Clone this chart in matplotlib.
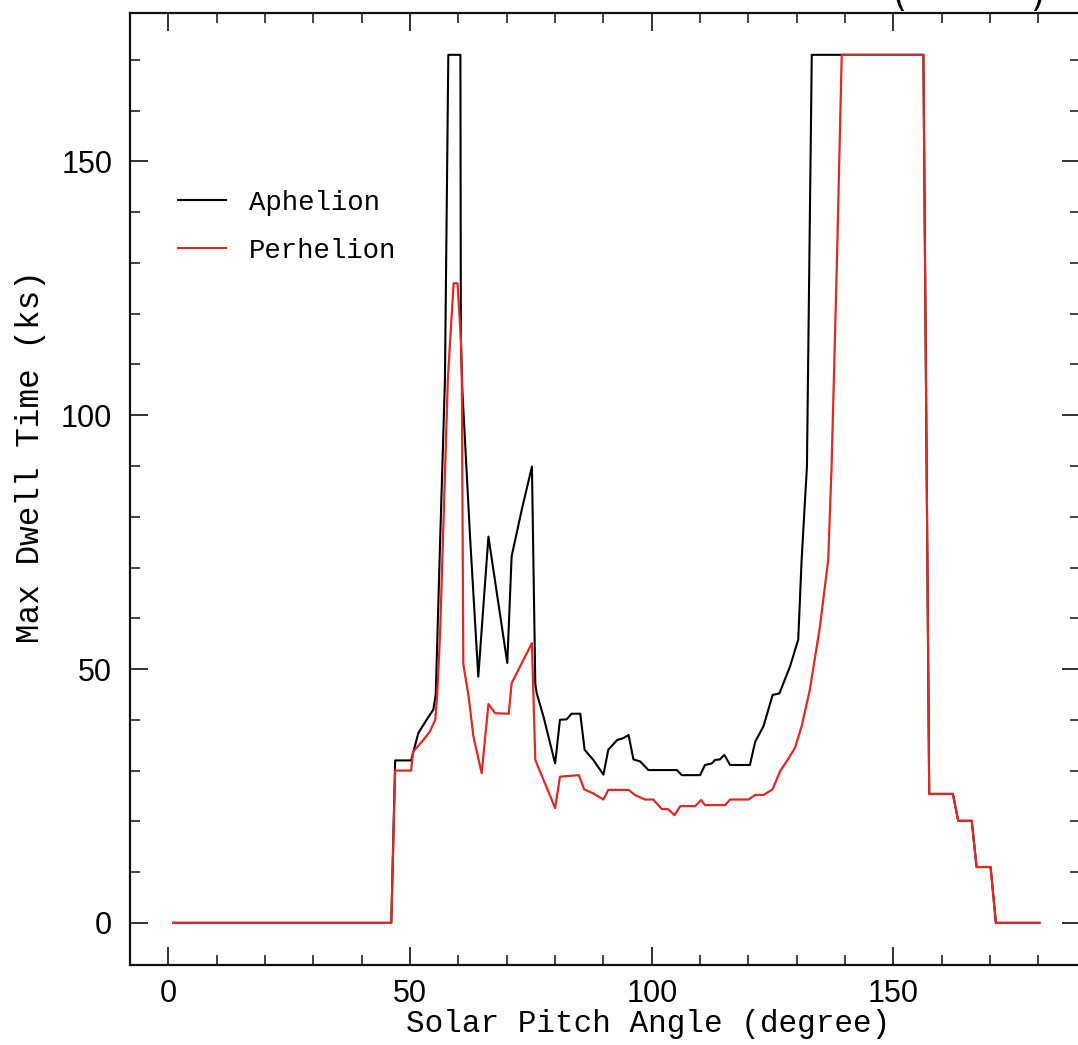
import matplotlib
matplotlib.use("Agg")
import matplotlib.pyplot as plt
from matplotlib.ticker import MultipleLocator

# ---- data ----
aph_x = [1, 46.1, 46.9, 50.2, 51.7, 53.4, 54.8, 55.3, 56.2, 57.2, 57.9, 60.4, 60.5, 60.8,
         62.4, 64.1, 66.2, 70.1, 71.0, 73.1, 75.2, 75.9, 76.2, 77.6, 80.0, 81.0, 82.4, 83.4,
         85.2, 86.1, 87.9, 90.0, 91.0, 92.8, 94.1, 95.2, 96.2, 97.6, 99.3, 105.2, 106.2,
         110.0, 111.0, 112.4, 113.1, 114.1, 115.0, 116.2, 120.3, 121.4, 123.1, 125.0, 126.4,
         128.6, 130.3, 131.0, 132.1, 133.1, 156.2, 157.4, 162.3, 163.4, 166.2, 167.2, 170.1,
         171.2, 180.2]
aph_y = [0, 0, 32, 32, 37.4, 40, 42, 45, 75, 107, 171, 171, 115, 105,
         76, 48.5, 76.1, 51.2, 72.2, 81.4, 89.9, 47, 45.2, 40.6, 31.4, 40.0, 40.1, 41.2,
         41.2, 34.1, 32.1, 29.2, 34.1, 36.0, 36.4, 37.0, 32.2, 31.8, 30.1, 30.1, 29.1,
         29.1, 31.1, 31.4, 32.1, 32.2, 33.1, 31.1, 31.1, 35.7, 38.7, 44.9, 45.2,
         50.5, 55.8, 71.5, 89.9, 171, 171, 25.4, 25.4, 20.1, 20.1, 11.0, 11.0,
         0, 0]

per_x = [1, 46.1, 46.9, 50.2, 50.6, 52.7, 54.1, 55.2, 55.6, 56.2, 57.8, 58.3, 59.0, 59.8,
         60.5, 60.7, 61.0, 62.1, 63.1, 64.8, 66.2, 67.6, 70.4, 71.0, 75.2, 75.9, 80.0, 81.0,
         84.9, 86.0, 87.9, 90.0, 91.0, 95.2, 96.5, 98.6, 100.3, 102.1, 103.4, 104.7, 105.9,
         109.0, 110.2, 111.0, 115.2, 116.2, 120.0, 121.4, 123.1, 125.0, 126.5, 127.9, 129.6,
         131.0, 132.7, 134.8, 136.5, 137.2, 138.3, 139.3, 156.2, 157.4, 162.3, 163.4, 166.2,
         167.2, 170.1, 171.2, 180.2]
per_y = [0, 0, 30, 30, 33.7, 36, 37.7, 40, 45, 57, 107, 115, 126, 126,
         115, 107, 51, 44.6, 36.7, 29.5, 43.1, 41.3, 41.2, 47.2, 55.1, 32.1, 22.6, 28.8,
         29.1, 26.3, 25.5, 24.3, 26.2, 26.2, 25.2, 24.3, 24.3, 22.4, 22.4, 21.2, 23.0,
         23.0, 24.2, 23.2, 23.2, 24.3, 24.3, 25.2, 25.2, 26.3, 29.8, 31.8, 34.4,
         38.7, 45.9, 58.4, 71.5, 89.9, 130, 171, 171, 25.4, 25.4, 20.1, 20.1,
         11.0, 11.0, 0, 0]

series_labels = ["Aphelion", "Perhelion"]
xlabel = "Solar Pitch Angle (degree)"
ylabel = "Max Dwell Time (ks)"
xticks = [0, 50, 100, 150]
yticks = [0, 50, 100, 150]

# ---- figure ----
W, H = 1078, 1045
fig = plt.figure(figsize=(W / 100, H / 100), dpi=100)
AXL, AXR, AXT, AXB = 130.3, 1080, 12.7, 965
ax = fig.add_axes([AXL / W, (H - AXB) / H, (AXR - AXL) / W, (AXB - AXT) / H])

ax.plot(aph_x, aph_y, color="black", lw=1.5, label=series_labels[0], zorder=3)
ax.plot(per_x, per_y, color="#dd2a24", lw=1.6, label=series_labels[1], zorder=4)

ax.set_xlim(-7.9, 188.6)
ax.set_ylim(-8.3, 179.3)
ax.set_xticks(xticks)
ax.set_yticks(yticks)
ax.xaxis.set_minor_locator(MultipleLocator(10))
ax.yaxis.set_minor_locator(MultipleLocator(10))

tickfont = "Liberation Sans"
ax.tick_params(which="both", direction="in", top=True, right=True, colors="#222222",
               labelcolor="black")
ax.tick_params(which="major", length=13, width=1.3, pad=13, labelsize=22)
ax.tick_params(axis="x", which="major", pad=10)
ax.tick_params(which="minor", length=7, width=1.2)
for lab in ax.get_xticklabels() + ax.get_yticklabels():
    lab.set_fontfamily(tickfont)

for s in ax.spines.values():
    s.set_linewidth(1.6)
    s.set_color("#111111")

labfont = "Liberation Mono"
ax.set_xlabel(xlabel, fontsize=22.3, family=labfont)
ax.set_ylabel(ylabel, fontsize=23.5, family=labfont)
ax.xaxis.set_label_coords((648 - AXL) / (AXR - AXL), -(1009 - AXB) / (AXB - AXT))
ax.yaxis.set_label_coords((46 - AXL) / (AXR - AXL), (AXB - 457) / (AXB - AXT))

leg = ax.legend(loc="upper left", frameon=False, prop={"family": labfont, "size": 19.7},
                bbox_to_anchor=((178 - AXL) / (AXR - AXL), (AXB - 190) / (AXB - AXT)),
                borderpad=0, borderaxespad=0, handlelength=1.75, handletextpad=0.85,
                labelspacing=0.8)
for h in leg.get_lines():
    h.set_linewidth(1.5)

# partially cropped title parentheses at top right
fig.text(900 / W, 1 - 6 / H, "(", fontsize=26, ha="center", va="baseline",
         family="DejaVu Sans")
fig.text(1037 / W, 1 - 6 / H, ")", fontsize=26, ha="center", va="baseline",
         family="DejaVu Sans")

fig.savefig("out.png", dpi=100)
